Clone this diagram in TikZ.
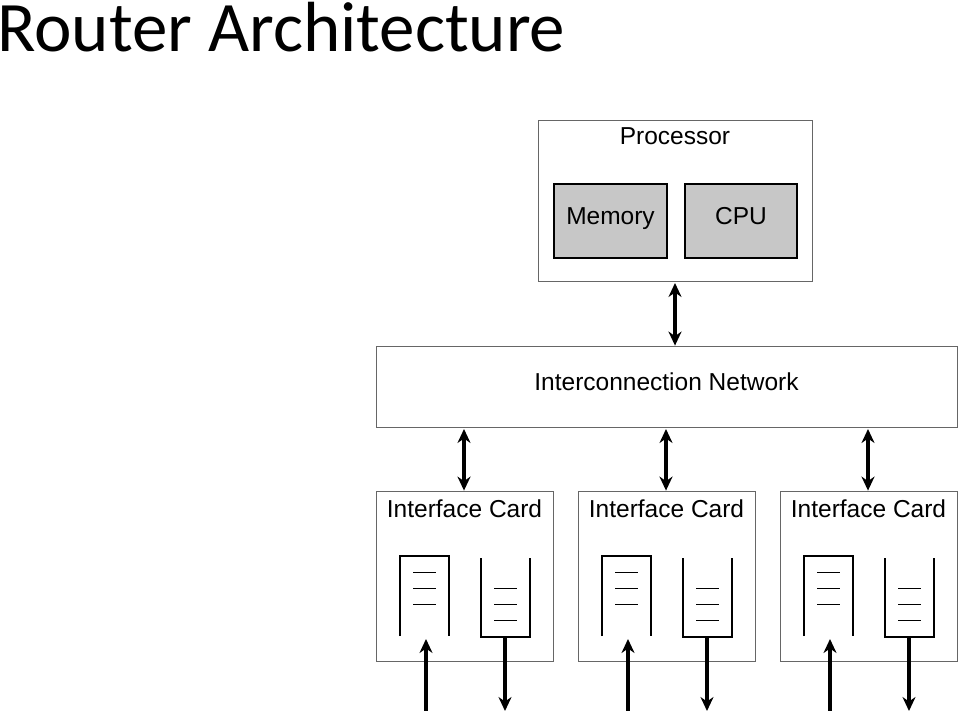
\documentclass[tikz,border=0pt]{standalone}
\usepackage{fontspec}
\setmainfont{Liberation Sans}
\newfontfamily\titlefont{Carlito}
\usetikzlibrary{arrows.meta}

\begin{document}
\begin{tikzpicture}[x=1pt,y=-1pt]
\useasboundingbox (0,0) rectangle (960,711);
\node[anchor=base west,inner sep=0pt,font=\titlefont\fontsize{71}{74}\selectfont] (T) at (-3,52) {Router Architecture};

\begin{scope}[every node/.style={draw=black!60,line width=0.8pt,inner sep=0pt,text height=15pt,text depth=7pt,font=\fontsize{24.5}{28}\selectfont}]
    \node[minimum width=274pt,minimum height=161pt] (P) at (675,200.5) {};
    \node[draw=none] at (675,141) {Processor};
    \node[draw=black,line width=1.5pt,fill=black!22,minimum width=113pt,minimum height=74pt] (M) at (610.5,221) {Memory};
    \node[draw=black,line width=1.5pt,fill=black!22,minimum width=112pt,minimum height=74pt] (C) at (741,221) {CPU};
    \node[minimum width=581pt,minimum height=81pt] (N) at (666.5,386.5) {Interconnection Network};
    \foreach \i/\x in {1/376,2/578,3/780} {
        \node[minimum width=177pt,minimum height=170pt] (I\i) at (\x+88.5,576) {};
        \node[draw=none] at (\x+88.5,513) {Interface Card};
    }
\end{scope}

\begin{scope}[>={Stealth[length=14pt,width=13pt]},line width=3.4pt]
    \coordinate (p) at (675,283);
    \draw[<->] (p) -- (p |- N.north);
    \foreach \i/\x in {1/376,2/578,3/780} {
        \draw[<->] (\x+88,429) coordinate (a\i) -- (a\i |- I\i.north);
        % input queue
        \draw[line width=2.2pt] (\x+24,636) -- (\x+24,556) -- (\x+73,556) -- (\x+73,636);
        \foreach \y in {572,588,604} \draw[line width=1pt] (\x+37,\y) -- (\x+60,\y);
        % output queue
        \draw[line width=2.2pt] (\x+105,558) -- (\x+105,637) coordinate (q\i) -- (\x+154,637) -- (\x+154,558);
        \foreach \y in {588,604,620} \draw[line width=1pt] (\x+118,\y) -- (\x+141,\y);
        \coordinate (in\i) at (\x+50,711);
        \coordinate (out\i) at (\x+129,711);
        \draw[->] (in\i) -- (\x+50,639);
        \draw[->] (\x+129,637) -- (out\i);
    }
\end{scope}
\end{tikzpicture}
\end{document}
